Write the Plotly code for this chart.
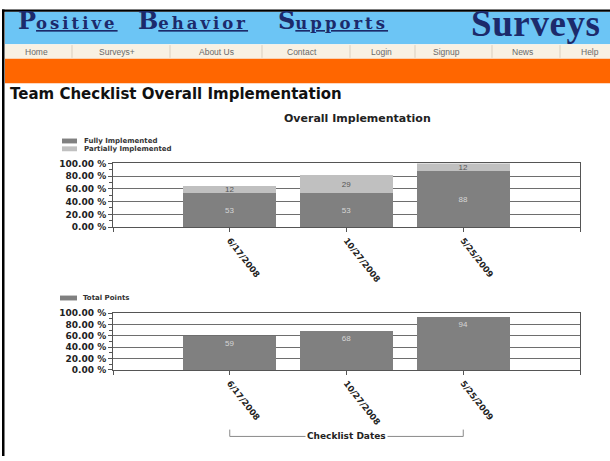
import plotly.graph_objects as go

# ---------------- data ----------------
dates = ["6/17/2008", "10/27/2008", "5/25/2009"]
fully = [53, 53, 88]
partially = [12, 29, 12]
total = [59, 68, 94]
series_top = ["Fully Implemented", "Partially Implemented"]
series_bottom = ["Total Points"]
nav_items = ["Home", "Surveys+", "About Us", "Contact", "Login", "Signup", "News", "Help"]
page_title = "Team Checklist Overall Implementation"
chart_title = "Overall Implementation"
x_title = "Checklist Dates"

# ---------------- helpers ----------------
W, H = 610, 461


def px(x):
    return x / W


def py(y):
    return 1 - y / H


DARK = "#808080"
LIGHT = "#c0c0c0"
AXIS = "#555555"
GRID = "#6e6e6e"
NAVY = "#1c2a6b"
BOLD = "DejaVu Sans"

idx = list(range(len(dates)))
tickvals = [-1] + idx + [len(dates)]
ticktext = [""] + dates + [""]

fig = go.Figure()

fig.add_bar(
    x=idx, y=fully, name=series_top[0], marker=dict(color=DARK, line=dict(width=0)),
    text=fully, textposition="inside", insidetextanchor="middle", textangle=0,
    textfont=dict(color="#d6d6d6", size=8, family="Liberation Sans"),
    width=0.8, xaxis="x", yaxis="y", showlegend=False,
)
fig.add_bar(
    x=idx, y=partially, name=series_top[1], marker=dict(color=LIGHT, line=dict(width=0)),
    text=partially, textposition="inside", insidetextanchor="middle", textangle=0,
    textfont=dict(color="#555555", size=8, family="Liberation Sans"),
    width=0.8, xaxis="x", yaxis="y", showlegend=False,
)
fig.add_bar(
    x=idx, y=total, name=series_bottom[0], marker=dict(color=DARK, line=dict(width=0)),
    text=total, textposition="inside", insidetextanchor="end", textangle=0,
    textfont=dict(color="#d6d6d6", size=8, family="Liberation Sans"),
    width=0.8, xaxis="x2", yaxis="y2", showlegend=False,
)


def xaxis_cfg(anchor):
    return dict(
        domain=[px(113), px(580)], anchor=anchor, range=[-1, len(dates)],
        tickmode="array", tickvals=tickvals, ticktext=ticktext, tickangle=52,
        ticks="outside", ticklen=4, tickcolor=AXIS,
        tickfont=dict(family=BOLD, size=8.5, color="#222222", weight="bold"),
        showline=True, linecolor=AXIS, linewidth=1, mirror=True,
        showgrid=False, zeroline=False, fixedrange=True,
    )


def yaxis_cfg(anchor, top, bottom):
    return dict(
        domain=[py(bottom), py(top)], anchor=anchor, range=[0, 100],
        dtick=20, tick0=0, tickformat=".2f", ticksuffix=" %",
        ticks="outside", ticklen=4, tickcolor=AXIS,
        minor=dict(dtick=10, ticks="outside", ticklen=3, tickcolor=AXIS, showgrid=False),
        tickfont=dict(family=BOLD, size=9, color="#222222", weight="bold"),
        showline=True, linecolor=AXIS, linewidth=1, mirror=True,
        showgrid=True, gridcolor=GRID, gridwidth=1, zeroline=False, fixedrange=True,
    )


shapes = []
ann = []

# page frame / header bands
shapes += [
    dict(type="rect", xref="paper", yref="paper", x0=px(5), x1=px(610), y0=py(40), y1=py(7),
         fillcolor="#6cc5f5", line=dict(width=0), layer="below"),
    dict(type="rect", xref="paper", yref="paper", x0=px(5), x1=px(610), y0=py(55), y1=py(40),
         fillcolor="#f8f1e3", line=dict(width=0), layer="below"),
    dict(type="rect", xref="paper", yref="paper", x0=px(5), x1=px(610), y0=py(80), y1=py(55),
         fillcolor="#ff6600", line=dict(width=0), layer="below"),
    dict(type="rect", xref="paper", yref="paper", x0=px(2), x1=px(610), y0=py(7), y1=py(4.5),
         fillcolor="#000000", line=dict(width=0)),
    dict(type="rect", xref="paper", yref="paper", x0=px(2), x1=px(4.5), y0=py(461), y1=py(4.5),
         fillcolor="#000000", line=dict(width=0)),
]

# nav separators and items
nav_centers = [36, 117, 216, 302, 381, 446, 522, 590]
separators = [72, 170, 262, 350, 415, 492, 560]
for s in separators:
    shapes.append(dict(type="line", xref="paper", yref="paper", x0=px(s), x1=px(s),
                       y0=py(54), y1=py(41), line=dict(color="#d9cfbf", width=1)))
for name, cx in zip(nav_items, nav_centers):
    ann.append(dict(text=name, x=px(cx), y=py(48), xref="paper", yref="paper",
                    xanchor="center", yanchor="middle", showarrow=False,
                    font=dict(family="Liberation Sans", size=8.5, color="#6a6a6a")))

# header logo text
for word, x0 in [("Positive", 16), ("Behavior", 136), ("Supports", 276)]:
    ann.append(dict(
        text="<span style='font-size:24px'>%s</span><u><span style='letter-spacing:3px'>%s</span></u>" % (word[0], word[1:]),
        x=px(x0), y=py(16), xref="paper", yref="paper", xanchor="left", yanchor="middle",
        showarrow=False, font=dict(family="DejaVu Serif", size=16.5, color=NAVY, weight="bold")))
ann.append(dict(text="<span style='letter-spacing:0.6px'>Surveys</span>", x=px(469), y=py(19),
                xref="paper", yref="paper",
                xanchor="left", yanchor="middle", showarrow=False,
                font=dict(family="Liberation Serif", size=37, color=NAVY, weight="bold")))

# page title
ann.append(dict(text=page_title, x=px(8), y=py(91), xref="paper", yref="paper",
                xanchor="left", yanchor="middle", showarrow=False,
                font=dict(family=BOLD, size=15, color="#111111", weight="bold")))

# chart title
ann.append(dict(text=chart_title, x=px(357), y=py(116), xref="paper", yref="paper",
                xanchor="center", yanchor="middle", showarrow=False,
                font=dict(family=BOLD, size=11, color="#222222", weight="bold")))

# legends
leg_font = dict(family=BOLD, size=7, color="#333333", weight="bold")
for i, (name, col) in enumerate(zip(series_top, [DARK, LIGHT])):
    yc = 139 + 8 * i
    shapes.append(dict(type="rect", xref="paper", yref="paper", x0=px(62), x1=px(77),
                       y0=py(yc + 2.5), y1=py(yc - 2.5), fillcolor=col, line=dict(width=0)))
    ann.append(dict(text=name, x=px(82), y=py(yc), xref="paper", yref="paper",
                    xanchor="left", yanchor="middle", showarrow=False, font=leg_font))
shapes.append(dict(type="rect", xref="paper", yref="paper", x0=px(60), x1=px(77),
                   y0=py(302), y1=py(297), fillcolor=DARK, line=dict(width=0)))
ann.append(dict(text=series_bottom[0], x=px(81), y=py(299.5), xref="paper", yref="paper",
                xanchor="left", yanchor="middle", showarrow=False, font=leg_font))

# x title bracket
shapes.append(dict(type="line", xref="x2", yref="paper", x0=0, x1=len(dates) - 1,
                   y0=py(441), y1=py(441), line=dict(color="#8a8a8a", width=1)))
for xv in [0, len(dates) - 1]:
    shapes.append(dict(type="line", xref="x2", yref="paper", x0=xv, x1=xv,
                       y0=py(441), y1=py(434), line=dict(color="#8a8a8a", width=1)))
ann.append(dict(text=x_title, x=(len(dates) - 1) / 2, y=py(440.5), xref="x2", yref="paper",
                xanchor="center", yanchor="middle", showarrow=False, bgcolor="#ffffff",
                borderpad=1, font=dict(family=BOLD, size=9, color="#222222", weight="bold")))

fig.update_layout(
    width=W, height=H, margin=dict(l=0, r=0, t=0, b=0),
    paper_bgcolor="#ffffff", plot_bgcolor="#ffffff",
    barmode="stack", bargap=0.2,
    uniformtext=dict(minsize=8, mode="show"),
    xaxis=xaxis_cfg("y"), yaxis=yaxis_cfg("x", 162, 227),
    xaxis2=xaxis_cfg("y2"), yaxis2=yaxis_cfg("x2", 315, 373),
    shapes=shapes, annotations=ann, showlegend=False,
)

fig.write_html(
    "out.html",
    config={"displayModeBar": False},
    post_script="document.body.style.margin='0';document.body.style.overflow='hidden';",
)
